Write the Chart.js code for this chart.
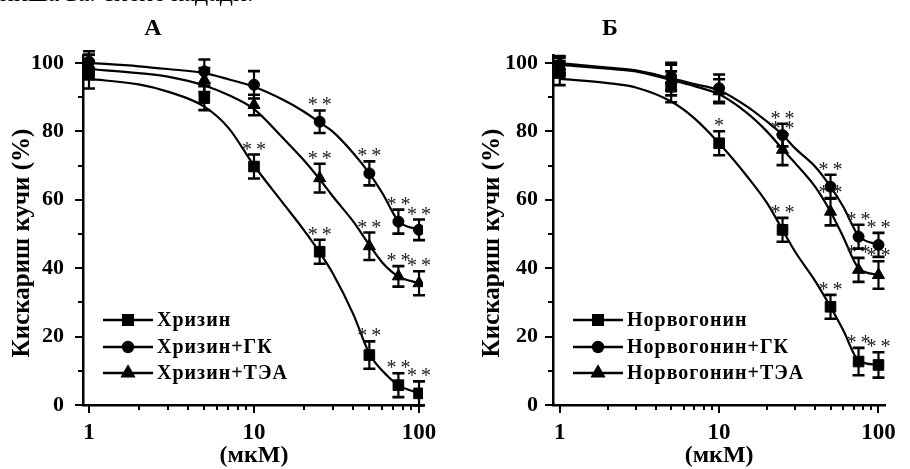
<!DOCTYPE html>
<html>
<head>
<meta charset="utf-8">
<script src="https://cdn.jsdelivr.net/npm/chart.js@4.4.1/dist/chart.umd.min.js"></script>
<style>
  html, body { margin: 0; padding: 0; background: #fff; }
  body { width: 910px; height: 469px; position: relative; overflow: hidden; }
  .panel { position: absolute; top: 0; width: 455px; height: 469px; }
  #topline { position: absolute; left: 0; top: -22px; font: 26px "Liberation Serif", serif; white-space: nowrap; color: #000; will-change: transform; }
</style>
</head>
<body>
<div id="topline">ниша ва. сиеие кадади.</div>
<div class="panel" style="left:0"><canvas id="chartA" width="455" height="469"></canvas></div>
<div class="panel" style="left:455px"><canvas id="chartB" width="455" height="469"></canvas></div>
<script>
// concentrations, µM
const conc = [1, 5, 10, 25, 50, 75, 100];
const curveX = [1, 2, 3, 5, 7, 10, 15, 20, 25, 30, 40, 50, 60, 75, 100];

const yTicks = [0, 10, 20, 30, 40, 50, 60, 70, 80, 90, 100];
const yLabelled = [0, 20, 40, 60, 80, 100];
const xTicks = [1, 2, 3, 4, 5, 6, 7, 8, 9, 10, 20, 30, 40, 50, 60, 70, 80, 90, 100];
const xLabelled = [1, 10, 100];

// panel A
const chrysinNames = ['Хризин', 'Хризин+ГК', 'Хризин+ТЭА'];
const chrysin      = [96.5, 89.7, 69.7, 44.8, 14.6, 5.8, 3.4];
const chrysinErr   = [4, 3.5, 3.5, 3.5, 4, 3.5, 3.5];
const chrysinFit   = [95.3, 93.7, 91.6, 87.2, 81, 70, 59, 51.2, 44.6, 38.5, 26.5, 15, 10, 5.8, 3.4];
const chrysinGk    = [100.4, 97.5, 93.6, 82.8, 67.7, 53.6, 51.2];
const chrysinGkErr = [3, 3.5, 4, 3.3, 3.5, 3.5, 3];
const chrysinGkFit = [100, 99, 98.2, 97, 95.2, 93, 89.2, 85.8, 82.6, 79.9, 73.6, 67.7, 61.9, 53.8, 51.2];
const chrysinTea    = [99.4, 95, 87.7, 66.3, 46.4, 37.6, 35.6];
const chrysinTeaErr = [3, 3.5, 3, 4.2, 4, 3, 3.5];
const chrysinTeaFit = [98.2, 97, 96, 93.4, 90.6, 86.5, 78, 71.6, 66, 61, 53.6, 46.8, 41.6, 37.6, 35.6];
const chrysinStars    = ['', '', '**', '**', '**', '**', '**'];
const chrysinGkStars  = ['', '', '', '**', '**', '**', '**'];
const chrysinTeaStars = ['', '', '', '**', '**', '**', '**'];

// panel Б
const norwNames = ['Норвогонин', 'Норвогонин+ГК', 'Норвогонин+ТЭА'];
const norw      = [97, 93, 76.5, 51.2, 28.7, 12.7, 11.7];
const norwErr   = [3.5, 4.5, 3.5, 3.5, 3.5, 4, 3.7];
const norwFit   = [95.3, 94.1, 92.8, 88.7, 83.8, 76.5, 66.8, 59, 51.2, 44.8, 36.3, 28.7, 21.9, 13, 11.7];
const norwGk    = [99.5, 96, 92.6, 78.9, 63.8, 49.2, 46.8];
const norwGkErr = [2.5, 4, 4, 3.3, 3.5, 3.5, 3.5];
const norwGkFit = [99.9, 98.6, 97.8, 95.5, 93.8, 92, 87.2, 82.8, 79, 75, 69.7, 63.8, 58, 49.5, 46.8];
const norwTea    = [99, 95, 91.7, 74.6, 56.5, 39.5, 38];
const norwTeaErr = [2.5, 4.5, 3.5, 4.5, 4, 3.5, 4];
const norwTeaFit = [99.4, 98.3, 97.5, 95, 93.2, 90.8, 85.3, 79.9, 74.8, 70.7, 63.8, 56.5, 49.2, 40, 38];
const norwStars    = ['', '', '*', '**', '**', '**', '**'];
const norwGkStars  = ['', '', '', '**', '**', '**', '**'];
const norwTeaStars = ['', '', '', '**', '**', '**', '**'];

const yTitle = 'Кискариш кучи (%)';
const xTitle = '(мкМ)';

const markers = [
  { pointStyle: 'rect', radius: 7.5 },
  { pointStyle: 'circle', radius: 5.5 },
  { pointStyle: 'triangle', radius: 7 }
];

const SERIF = '"Liberation Serif", "Times New Roman", serif';

const figurePlugin = {
  id: 'figure',
  afterDraw(chart) {
    const { ctx, chartArea: area, scales: { x, y } } = chart;
    const o = chart.options.plugins.figure;
    ctx.save();
    ctx.strokeStyle = '#000';
    ctx.fillStyle = '#000';

    // tick marks, outward, minors shorter
    ctx.lineWidth = 2;
    xTicks.forEach(v => {
      const px = Math.round(x.getPixelForValue(v));
      const len = xLabelled.includes(v) ? 8 : 5;
      ctx.beginPath();
      ctx.moveTo(px, area.bottom);
      ctx.lineTo(px, area.bottom + len);
      ctx.stroke();
    });
    yTicks.forEach(v => {
      const py = Math.round(y.getPixelForValue(v));
      const len = yLabelled.includes(v) ? 8 : 5;
      ctx.beginPath();
      ctx.moveTo(area.left, py);
      ctx.lineTo(area.left - len, py);
      ctx.stroke();
    });

    // error bars + stars
    chart.data.datasets.forEach(ds => {
      if (!ds.errors) return;
      ds.data.forEach((pt, i) => {
        const px = x.getPixelForValue(pt.x);
        const top = y.getPixelForValue(pt.y + ds.errors[i]);
        const bot = y.getPixelForValue(pt.y - ds.errors[i]);
        ctx.lineWidth = 2.2;
        ctx.beginPath();
        ctx.moveTo(px, top); ctx.lineTo(px, bot);
        ctx.stroke();
        ctx.lineWidth = 2.6;
        ctx.beginPath();
        ctx.moveTo(px - 6, top); ctx.lineTo(px + 6, top);
        ctx.moveTo(px - 6, bot); ctx.lineTo(px + 6, bot);
        ctx.stroke();

        const s = ds.stars[i];
        if (s) {
          ctx.font = '20px ' + SERIF;
          ctx.textAlign = 'center';
          ctx.textBaseline = 'alphabetic';
          ctx.fillStyle = '#222';
          const sy = top - 8 + 9;
          if (s.length === 2) {
            ctx.fillText('*', px - 7, sy);
            ctx.fillText('*', px + 7, sy);
          } else {
            ctx.fillText('*', px, sy);
          }
          ctx.fillStyle = '#000';
        }
      });
    });

    // legend
    let row = 0;
    chart.data.datasets.forEach(ds => {
      if (!ds.errors) return;
      const ly = o.legendY[row];
      ctx.lineWidth = 2.5;
      ctx.beginPath();
      ctx.moveTo(o.legendX, ly);
      ctx.lineTo(o.legendX + 50, ly);
      ctx.stroke();
      Chart.helpers.drawPoint(ctx, { pointStyle: ds.pointStyle, radius: ds.pointRadius * 0.9, rotation: 0, borderWidth: 1 }, o.legendX + 25, ly);
      ctx.font = 'bold 20px ' + SERIF;
      ctx.letterSpacing = '1px';
      ctx.textAlign = 'left';
      ctx.textBaseline = 'middle';
      ctx.fillText(ds.label, o.legendX + 54, ly + 1);
      ctx.letterSpacing = '0px';
      row++;
    });

    // panel letter
    ctx.font = 'bold 24px ' + SERIF;
    ctx.textAlign = 'center';
    ctx.textBaseline = 'middle';
    ctx.fillText(o.letter, o.letterX, 29);

    // axis titles
    ctx.font = 'bold 24px ' + SERIF;
    ctx.fillText(xTitle, x.getPixelForValue(10), 456);
    ctx.save();
    ctx.translate(o.yTitleX, 243);
    ctx.rotate(-Math.PI / 2);
    ctx.font = 'bold 25px ' + SERIF;
    ctx.fillText(yTitle, 0, 0);
    ctx.restore();

    ctx.restore();
  }
};

function makePanel(canvasId, names, means, errs, fits, stars, opts) {
  const points = names.map((name, k) => ({
    type: 'scatter',
    label: name,
    data: conc.map((c, i) => ({ x: c, y: means[k][i] })),
    errors: errs[k],
    stars: stars[k],
    pointStyle: markers[k].pointStyle,
    pointRadius: markers[k].radius,
    pointHoverRadius: markers[k].radius,
    backgroundColor: '#000',
    borderColor: '#000',
    borderWidth: 1,
    showLine: false,
    order: 0
  }));
  const curves = names.map((name, k) => ({
    type: 'line',
    label: name + ' fit',
    data: curveX.map((c, i) => ({ x: c, y: fits[k][i] })),
    borderColor: '#000',
    borderWidth: 2.2,
    pointRadius: 0,
    cubicInterpolationMode: 'monotone',
    fill: false,
    order: 1
  }));

  return new Chart(document.getElementById(canvasId), {
    type: 'scatter',
    data: { datasets: points.concat(curves) },
    options: {
      responsive: false,
      animation: false,
      events: [],
      layout: { padding: { left: 0, top: 55, right: opts.padRight, bottom: 0 } },
      plugins: {
        legend: { display: false },
        tooltip: { enabled: false },
        figure: opts
      },
      scales: {
        x: {
          type: 'logarithmic',
          min: opts.xMin,
          max: opts.xMax,
          afterBuildTicks: s => { s.ticks = xTicks.map(v => ({ value: v, major: xLabelled.includes(v) })); },
          afterFit: s => { s.height = 64; },
          grid: { display: false, drawTicks: false },
          border: { display: true, color: '#000', width: 2.5 },
          ticks: {
            autoSkip: false,
            maxRotation: 0,
            padding: 14,
            color: '#000',
            font: { family: SERIF, size: 23, weight: 'bold' },
            callback: v => xLabelled.includes(v) ? String(v) : ''
          }
        },
        y: {
          min: 0,
          max: 102.3,
          afterBuildTicks: s => { s.ticks = yTicks.map(v => ({ value: v })); },
          afterFit: s => { s.width = opts.yAxisWidth; },
          grid: { display: false, drawTicks: false },
          border: { display: true, color: '#000', width: 2.5 },
          ticks: {
            padding: opts.yLabelPad,
            color: '#000',
            font: { family: SERIF, size: 22, weight: 'bold' },
            callback: v => yLabelled.includes(v) ? String(v) : ''
          }
        }
      }
    },
    plugins: [figurePlugin]
  });
}

function drawAll() {
  makePanel('chartA', chrysinNames,
    [chrysin, chrysinGk, chrysinTea],
    [chrysinErr, chrysinGkErr, chrysinTeaErr],
    [chrysinFit, chrysinGkFit, chrysinTeaFit],
    [chrysinStars, chrysinGkStars, chrysinTeaStars],
    { xMin: 0.92, xMax: 105.7, padRight: 32, yAxisWidth: 83, yLabelPad: 19,
      legendX: 103, legendY: [320, 347, 373], letter: 'А', letterX: 153, yTitleX: 23 });

  makePanel('chartB', norwNames,
    [norw, norwGk, norwTea],
    [norwErr, norwGkErr, norwTeaErr],
    [norwFit, norwGkFit, norwTeaFit],
    [norwStars, norwGkStars, norwTeaStars],
    { xMin: 0.907, xMax: 110.3, padRight: 13, yAxisWidth: 98, yLabelPad: 15,
      legendX: 118, legendY: [320, 347, 373], letter: 'Б', letterX: 155, yTitleX: 38 });
}

Promise.all([
  document.fonts.load('bold 22px "Liberation Serif"'),
  document.fonts.load('20px "Liberation Serif"')
]).then(drawAll, drawAll);
</script>
</body>
</html>
